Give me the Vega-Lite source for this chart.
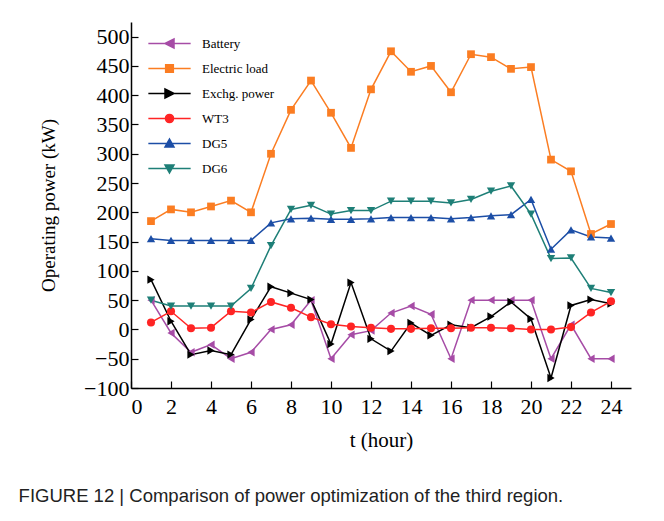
{
  "$schema": "https://vega.github.io/schema/vega-lite/v6.json",
  "width": 500,
  "height": 366,
  "autosize": "none",
  "padding": {"left": 131, "top": 22, "right": 33, "bottom": 133},
  "background": "white",
  "title": {
    "text": "FIGURE 12 | Comparison of power optimization of the third region.",
    "orient": "bottom",
    "anchor": "start",
    "dx": -21,
    "offset": 37,
    "font": "Liberation Sans",
    "fontSize": 18.5,
    "fontWeight": "normal",
    "color": "#222222"
  },
  "config": {
    "view": {"stroke": null},
    "axis": {
      "grid": false,
      "domainColor": "black",
      "domainWidth": 1.5,
      "tickColor": "black",
      "tickWidth": 1.2,
      "tickSize": -7,
      "labelFont": "Liberation Serif",
      "labelFontSize": 22,
      "labelColor": "black",
      "titleFont": "Liberation Serif",
      "titleFontSize": 20,
      "titleFontWeight": "normal",
      "titleColor": "black"
    }
  },
  "data": {
    "values": [
      {"t":1,"s":"Battery","v":50},{"t":2,"s":"Battery","v":-6},{"t":3,"s":"Battery","v":-39},{"t":4,"s":"Battery","v":-26},{"t":5,"s":"Battery","v":-50},{"t":6,"s":"Battery","v":-39},{"t":7,"s":"Battery","v":0},{"t":8,"s":"Battery","v":8},{"t":9,"s":"Battery","v":50},{"t":10,"s":"Battery","v":-50},{"t":11,"s":"Battery","v":-9},{"t":12,"s":"Battery","v":-2},{"t":13,"s":"Battery","v":28},{"t":14,"s":"Battery","v":40},{"t":15,"s":"Battery","v":26},{"t":16,"s":"Battery","v":-50},{"t":17,"s":"Battery","v":50},{"t":18,"s":"Battery","v":50},{"t":19,"s":"Battery","v":50},{"t":20,"s":"Battery","v":50},{"t":21,"s":"Battery","v":-50},{"t":22,"s":"Battery","v":8},{"t":23,"s":"Battery","v":-50},{"t":24,"s":"Battery","v":-50},
      {"t":1,"s":"Electric load","v":185},{"t":2,"s":"Electric load","v":205},{"t":3,"s":"Electric load","v":200},{"t":4,"s":"Electric load","v":210},{"t":5,"s":"Electric load","v":220},{"t":6,"s":"Electric load","v":200},{"t":7,"s":"Electric load","v":300},{"t":8,"s":"Electric load","v":375},{"t":9,"s":"Electric load","v":425},{"t":10,"s":"Electric load","v":370},{"t":11,"s":"Electric load","v":310},{"t":12,"s":"Electric load","v":410},{"t":13,"s":"Electric load","v":475},{"t":14,"s":"Electric load","v":440},{"t":15,"s":"Electric load","v":450},{"t":16,"s":"Electric load","v":405},{"t":17,"s":"Electric load","v":470},{"t":18,"s":"Electric load","v":465},{"t":19,"s":"Electric load","v":445},{"t":20,"s":"Electric load","v":448},{"t":21,"s":"Electric load","v":290},{"t":22,"s":"Electric load","v":270},{"t":23,"s":"Electric load","v":163},{"t":24,"s":"Electric load","v":180},
      {"t":1,"s":"Exchg. power","v":85},{"t":2,"s":"Exchg. power","v":14},{"t":3,"s":"Exchg. power","v":-43},{"t":4,"s":"Exchg. power","v":-36},{"t":5,"s":"Exchg. power","v":-43},{"t":6,"s":"Exchg. power","v":17},{"t":7,"s":"Exchg. power","v":73},{"t":8,"s":"Exchg. power","v":62},{"t":9,"s":"Exchg. power","v":51},{"t":10,"s":"Exchg. power","v":-25},{"t":11,"s":"Exchg. power","v":80},{"t":12,"s":"Exchg. power","v":-16},{"t":13,"s":"Exchg. power","v":-37},{"t":14,"s":"Exchg. power","v":11},{"t":15,"s":"Exchg. power","v":-10},{"t":16,"s":"Exchg. power","v":8},{"t":17,"s":"Exchg. power","v":3},{"t":18,"s":"Exchg. power","v":22},{"t":19,"s":"Exchg. power","v":47},{"t":20,"s":"Exchg. power","v":18},{"t":21,"s":"Exchg. power","v":-83},{"t":22,"s":"Exchg. power","v":41},{"t":23,"s":"Exchg. power","v":51},{"t":24,"s":"Exchg. power","v":44},
      {"t":1,"s":"WT3","v":12},{"t":2,"s":"WT3","v":31},{"t":3,"s":"WT3","v":2},{"t":4,"s":"WT3","v":3},{"t":5,"s":"WT3","v":31},{"t":6,"s":"WT3","v":29},{"t":7,"s":"WT3","v":47},{"t":8,"s":"WT3","v":37},{"t":9,"s":"WT3","v":21},{"t":10,"s":"WT3","v":9},{"t":11,"s":"WT3","v":5},{"t":12,"s":"WT3","v":3},{"t":13,"s":"WT3","v":1},{"t":14,"s":"WT3","v":1},{"t":15,"s":"WT3","v":2},{"t":16,"s":"WT3","v":2},{"t":17,"s":"WT3","v":3},{"t":18,"s":"WT3","v":3},{"t":19,"s":"WT3","v":2},{"t":20,"s":"WT3","v":0},{"t":21,"s":"WT3","v":0},{"t":22,"s":"WT3","v":4},{"t":23,"s":"WT3","v":29},{"t":24,"s":"WT3","v":48},
      {"t":1,"s":"DG5","v":155},{"t":2,"s":"DG5","v":152},{"t":3,"s":"DG5","v":152},{"t":4,"s":"DG5","v":152},{"t":5,"s":"DG5","v":152},{"t":6,"s":"DG5","v":152},{"t":7,"s":"DG5","v":182},{"t":8,"s":"DG5","v":189},{"t":9,"s":"DG5","v":190},{"t":10,"s":"DG5","v":188},{"t":11,"s":"DG5","v":188},{"t":12,"s":"DG5","v":189},{"t":13,"s":"DG5","v":191},{"t":14,"s":"DG5","v":191},{"t":15,"s":"DG5","v":191},{"t":16,"s":"DG5","v":189},{"t":17,"s":"DG5","v":191},{"t":18,"s":"DG5","v":194},{"t":19,"s":"DG5","v":196},{"t":20,"s":"DG5","v":222},{"t":21,"s":"DG5","v":137},{"t":22,"s":"DG5","v":170},{"t":23,"s":"DG5","v":158},{"t":24,"s":"DG5","v":156},
      {"t":1,"s":"DG6","v":50},{"t":2,"s":"DG6","v":40},{"t":3,"s":"DG6","v":40},{"t":4,"s":"DG6","v":40},{"t":5,"s":"DG6","v":40},{"t":6,"s":"DG6","v":70},{"t":7,"s":"DG6","v":143},{"t":8,"s":"DG6","v":205},{"t":9,"s":"DG6","v":212},{"t":10,"s":"DG6","v":197},{"t":11,"s":"DG6","v":203},{"t":12,"s":"DG6","v":203},{"t":13,"s":"DG6","v":219},{"t":14,"s":"DG6","v":219},{"t":15,"s":"DG6","v":219},{"t":16,"s":"DG6","v":216},{"t":17,"s":"DG6","v":222},{"t":18,"s":"DG6","v":236},{"t":19,"s":"DG6","v":245},{"t":20,"s":"DG6","v":197},{"t":21,"s":"DG6","v":121},{"t":22,"s":"DG6","v":122},{"t":23,"s":"DG6","v":70},{"t":24,"s":"DG6","v":63}
    ]
  },
  "encoding": {
    "x": {
      "field": "t",
      "type": "quantitative",
      "scale": {"domain": [0, 25], "nice": false, "zero": false},
      "axis": {"values": [0,2,4,6,8,10,12,14,16,18,20,22,24], "title": "t (hour)", "labelPadding": 15, "titlePadding": 12, "titleFontSize": 21}
    },
    "y": {
      "field": "v",
      "type": "quantitative",
      "scale": {"domain": [-100, 525], "nice": false, "zero": false},
      "axis": {"values": [-100,-50,0,50,100,150,200,250,300,350,400,450,500], "title": "Operating power (kW)", "labelPadding": 9, "titlePadding": 25, "titleFontSize": 19}
    },
    "color": {
      "field": "s",
      "type": "nominal",
      "scale": {
        "domain": ["Battery", "Electric load", "Exchg. power", "WT3", "DG5", "DG6"],
        "range": ["#a64ca6", "#fb7d22", "#000000", "#ff2424", "#1c4ea6", "#1e7f77"]
      },
      "legend": {
        "orient": "none",
        "legendX": 32,
        "legendY": 15,
        "title": null,
        "padding": 0,
        "labelFont": "Liberation Serif",
        "labelFontSize": 13,
        "labelColor": "black",
        "labelOffset": 26,
        "rowPadding": 10,
        "symbolSize": 81,
        "symbolStrokeWidth": 1.5,
        "encode": {
          "symbols": {
            "update": {
              "shape": {"signal": "datum.value === 'Battery' ? 'M-4.7,0L4.7,0M-1,0L1,-1L1,1Z' : datum.value === 'Electric load' ? 'M-4.7,0L4.7,0M-0.85,-0.85L0.85,-0.85L0.85,0.85L-0.85,0.85Z' : datum.value === 'Exchg. power' ? 'M-4.7,0L4.7,0M1,0L-1,-1L-1,1Z' : datum.value === 'WT3' ? 'M-4.7,0L4.7,0M-0.9,0A0.9,0.9,0,1,1,0.9,0A0.9,0.9,0,1,1,-0.9,0Z' : datum.value === 'DG5' ? 'M-4.7,0L4.7,0M0,-1L1,0.8L-1,0.8Z' : 'M-4.7,0L4.7,0M0,1L1,-0.8L-1,-0.8Z'"},
              "fill": {"scale": "color", "field": "value"},
              "stroke": {"scale": "color", "field": "value"},
              "strokeWidth": {"value": 1.5},
              "opacity": {"value": 1}
            }
          }
        }
      }
    }
  },
  "layer": [
    {
      "mark": {"type": "line", "strokeWidth": 1.5},
      "encoding": {"detail": {"field": "s"}}
    },
    {
      "transform": [{"filter": "datum.s === 'Battery'"}],
      "mark": {"type": "point", "filled": true, "size": 70, "opacity": 1, "shape": "triangle-left"}
    },
    {
      "transform": [{"filter": "datum.s === 'Electric load'"}],
      "mark": {"type": "point", "filled": true, "size": 60, "opacity": 1, "shape": "square"}
    },
    {
      "transform": [{"filter": "datum.s === 'Exchg. power'"}],
      "mark": {"type": "point", "filled": true, "size": 70, "opacity": 1, "shape": "triangle-right"}
    },
    {
      "transform": [{"filter": "datum.s === 'WT3'"}],
      "mark": {"type": "point", "filled": true, "size": 65, "opacity": 1, "shape": "circle"}
    },
    {
      "transform": [{"filter": "datum.s === 'DG5'"}],
      "mark": {"type": "point", "filled": true, "size": 70, "opacity": 1, "shape": "triangle-up"}
    },
    {
      "transform": [{"filter": "datum.s === 'DG6'"}],
      "mark": {"type": "point", "filled": true, "size": 70, "opacity": 1, "shape": "triangle-down"}
    }
  ]
}
